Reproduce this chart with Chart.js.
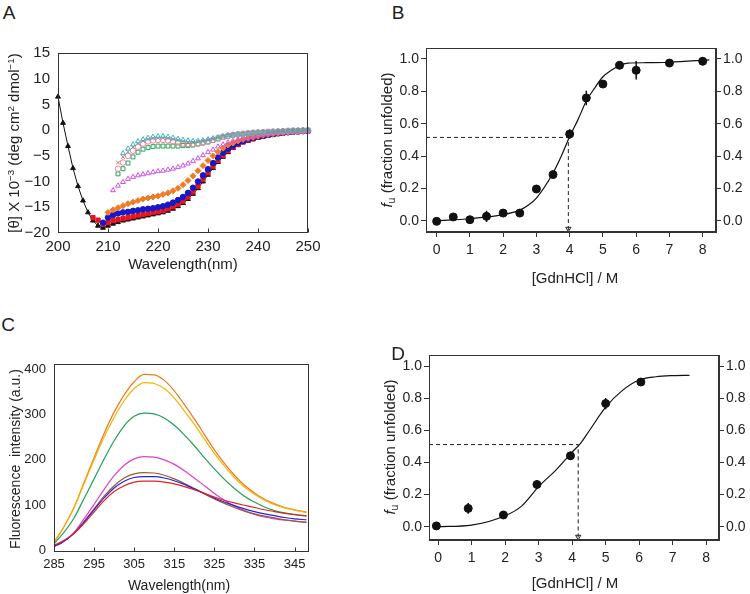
<!DOCTYPE html>
<html>
<head>
<meta charset="utf-8">
<script src="https://cdn.jsdelivr.net/npm/chart.js@4.4.1/dist/chart.umd.min.js"></script>
<style>
  body { margin: 0; background: #fff; width: 750px; height: 594px; position: relative; overflow: hidden;
         font-family: "Liberation Sans", Arial, sans-serif; color: #222; }
  canvas { position: absolute; }
  .t { position: absolute; white-space: nowrap; line-height: 1; transform: translate(-50%, -50%); }
  .rot { transform: translate(-50%, -50%) rotate(-90deg); }
  sup { font-size: 0.65em; vertical-align: 0.5em; line-height: 0; }
  sub { font-size: 0.7em; vertical-align: -0.3em; line-height: 0; }
</style>
</head>
<body>
<canvas id="chartA" width="330" height="235" style="left:0;top:30px"></canvas>
<canvas id="chartB" width="375" height="265" style="left:375px;top:35px"></canvas>
<canvas id="chartC" width="330" height="254" style="left:0;top:340px"></canvas>
<canvas id="chartD" width="375" height="249" style="left:375px;top:345px"></canvas>

<div class="t" style="left:9px;top:12px;font-size:19px">A</div>
<div class="t" style="left:398px;top:12px;font-size:19px">B</div>
<div class="t" style="left:8px;top:324px;font-size:19px">C</div>
<div class="t" style="left:398px;top:353px;font-size:19px">D</div>

<div class="t rot" style="left:13px;top:143px;font-size:15px">[θ] X 10<sup>−3</sup> (deg cm<sup>2</sup> dmol<sup>−1</sup>)</div>
<div class="t" style="left:183px;top:263px;font-size:15px">Wavelength(nm)</div>
<div class="t rot" style="left:386px;top:140px;font-size:15px"><i>f</i><sub>u</sub> (fraction unfolded)</div>
<div class="t" style="left:575px;top:277px;font-size:15px">[GdnHCl] / M</div>
<div class="t rot" style="left:15px;top:459px;font-size:14px">Fluorescence&nbsp; intensity (a.u.)</div>
<div class="t" style="left:179px;top:585px;font-size:14px">Wavelength(nm)</div>
<div class="t rot" style="left:389px;top:447px;font-size:15px"><i>f</i><sub>u</sub> (fraction unfolded)</div>
<div class="t" style="left:575px;top:582px;font-size:15px">[GdnHCl] / M</div>

<script>
// ---- panel A: CD spectra (200-250 nm, 1 nm steps)
const waveA = [200, 201, 202, 203, 204, 205, 206, 207, 208, 209,
  210, 211, 212, 213, 214, 215, 216, 217, 218, 219,
  220, 221, 222, 223, 224, 225, 226, 227, 228, 229,
  230, 231, 232, 233, 234, 235, 236, 237, 238, 239,
  240, 241, 242, 243, 244, 245, 246, 247, 248, 249, 250];
const cdBlack = [6.5, 1.4, -3.1, -7.4, -10.9, -13.7, -16.0, -17.6, -18.6, -19.0,
  -18.6, -18.2, -17.9, -17.6, -17.4, -17.2, -17.0, -16.8, -16.6, -16.4,
  -16.2, -16.0, -15.7, -15.3, -14.8, -14.2, -13.4, -12.4, -11.3, -10.0,
  -8.7, -7.4, -6.2, -5.2, -4.3, -3.5, -2.9, -2.4, -2.1, -1.8,
  -1.5, -1.3, -1.1, -0.9, -0.75, -0.6, -0.5, -0.4, -0.3, -0.2, -0.15];
const cdRed = [null, null, null, null, null, null, null, -17.0, -17.5, -18.3,
  -18.0, -17.6, -17.4, -17.2, -17.0, -16.8, -16.6, -16.4, -16.2, -16.0,
  -15.8, -15.6, -15.3, -14.9, -14.4, -13.8, -13.0, -12.0, -10.9, -9.6,
  -8.3, -7.0, -5.9, -4.9, -4.0, -3.3, -2.8, -2.3, -2.0, -1.7,
  -1.4, -1.2, -1.0, -0.85, -0.7, -0.55, -0.45, -0.35, -0.3, -0.2, -0.15];
const cdBlue = [null, null, null, null, null, null, null, null, null, -18.0,
  -17.0, -16.5, -16.2, -16.0, -15.9, -15.7, -15.6, -15.4, -15.3, -15.2,
  -15.0, -14.8, -14.5, -14.1, -13.6, -13.0, -12.2, -11.2, -10.0, -8.8,
  -7.6, -6.4, -5.3, -4.4, -3.6, -3.0, -2.5, -2.1, -1.8, -1.5,
  -1.3, -1.1, -0.9, -0.75, -0.6, -0.5, -0.4, -0.3, -0.25, -0.2, -0.15];
const cdOrange = [null, null, null, null, null, null, null, null, null, null,
  -16.0, -15.5, -15.1, -14.7, -14.3, -14.0, -13.7, -13.4, -13.2, -13.0,
  -12.8, -12.5, -12.2, -11.8, -11.3, -10.6, -9.8, -8.9, -7.9, -6.9,
  -5.9, -5.0, -4.2, -3.5, -2.9, -2.5, -2.1, -1.8, -1.6, -1.4,
  -1.2, -1.0, -0.85, -0.7, -0.6, -0.5, -0.4, -0.3, -0.25, -0.2, -0.15];
const cdMagenta = [null, null, null, null, null, null, null, null, null, null,
  null, -11.7, -10.8, -10.1, -9.5, -9.1, -8.8, -8.6, -8.4, -8.2,
  -8.0, -7.9, -7.7, -7.5, -7.2, -6.9, -6.5, -6.0, -5.5, -4.9,
  -4.3, -3.8, -3.2, -2.8, -2.4, -2.1, -1.8, -1.6, -1.4, -1.2,
  -1.0, -0.9, -0.8, -0.7, -0.6, -0.5, -0.45, -0.4, -0.35, -0.3, -0.3];
const cdGreen = [null, null, null, null, null, null, null, null, null, null,
  null, null, -8.5, -7.5, -6.4, -5.2, -4.3, -3.7, -3.4, -3.2,
  -3.1, -3.1, -3.1, -3.1, -3.1, -3.0, -3.0, -2.9, -2.7, -2.5,
  -2.3, -2.0, -1.7, -1.4, -1.2, -1.0, -0.9, -0.8, -0.7, -0.6,
  -0.5, -0.45, -0.4, -0.35, -0.3, -0.25, -0.2, -0.15, -0.1, -0.1, -0.1];
const cdPink = [null, null, null, null, null, null, null, null, null, null,
  null, null, -7.5, -6.3, -5.0, -4.0, -3.2, -2.6, -2.2, -2.0,
  -1.9, -1.9, -2.0, -2.2, -2.4, -2.6, -2.7, -2.7, -2.6, -2.4,
  -2.2, -1.9, -1.6, -1.3, -1.1, -0.9, -0.8, -0.7, -0.6, -0.5,
  -0.45, -0.4, -0.35, -0.3, -0.25, -0.2, -0.15, -0.1, -0.1, -0.05, 0];
const cdBrown = [null, null, null, null, null, null, null, null, null, null,
  null, null, -6.3, -5.2, -4.2, -3.3, -2.6, -2.1, -1.8, -1.6,
  -1.5, -1.5, -1.6, -1.8, -2.0, -2.2, -2.3, -2.3, -2.2, -2.1,
  -1.9, -1.7, -1.4, -1.2, -1.0, -0.9, -0.8, -0.7, -0.6, -0.5,
  -0.4, -0.35, -0.3, -0.25, -0.2, -0.15, -0.1, -0.05, 0, 0, 0.05];
const cdCyan = [null, null, null, null, null, null, null, null, null, null,
  null, null, null, -4.5, -3.6, -2.8, -2.2, -1.8, -1.5, -1.3,
  -1.2, -1.2, -1.3, -1.5, -1.7, -1.9, -2.0, -2.1, -2.1, -2.0,
  -1.8, -1.6, -1.4, -1.2, -1.0, -0.9, -0.8, -0.7, -0.6, -0.5,
  -0.4, -0.35, -0.3, -0.25, -0.2, -0.15, -0.1, -0.05, 0, 0.05, 0.1];
const ticksWaveA = [200, 210, 220, 230, 240, 250];
const ticksCD = [-20, -15, -10, -5, 0, 5, 10, 15];

// ---- panel B: GdnHCl titration
const concB = [0, 0.5, 1, 1.5, 2, 2.5, 3, 3.5, 4, 4.5, 5, 5.5, 6, 7, 8];
const fuB = [-0.004, 0.023, 0.006, 0.027, 0.047, 0.047, 0.196, 0.285, 0.536, 0.759, 0.845, 0.961, 0.93, 0.975, 0.986];
const errB = [0, 0, 0, 0.035, 0, 0.02, 0, 0, 0.03, 0.045, 0, 0.02, 0.057, 0.015, 0.025];
const fitConcB = [0, 1, 2, 2.5, 2.75, 3, 3.5, 3.75, 4, 4.25, 4.5, 4.75, 5, 5.25, 5.5, 5.75, 6.3, 7, 8.2];
const fitB = [0, 0.012, 0.037, 0.065, 0.095, 0.14, 0.295, 0.4, 0.52, 0.625, 0.74, 0.82, 0.89, 0.93, 0.96, 0.975, 0.977, 0.98, 0.995];
const midB = [3.96, 0.515];

// ---- panel C: fluorescence spectra
const waveC = [285, 287, 290, 292.5, 295, 297.5, 300, 302.5, 305, 307.5, 310, 312.5, 315,
  317.5, 320, 322.5, 325, 327.5, 330, 332.5, 335, 337.5, 340, 342.5, 345, 348];
const flOrange = [18, 45, 95, 150, 205, 258, 305, 343, 372, 388, 387, 375, 352, 322, 290, 256, 222, 192, 166, 144, 127, 113, 103, 95, 90, 85];
const flYellow = [20, 46, 95, 148, 200, 250, 293, 330, 357, 370, 368, 357, 336, 308, 278, 246, 214, 186, 161, 140, 124, 111, 101, 94, 89, 84];
const flGreen = [15, 35, 72, 115, 158, 202, 242, 275, 296, 303, 301, 292, 276, 255, 231, 205, 180, 157, 137, 120, 107, 96, 88, 83, 80, 77];
const flMagenta = [8, 18, 40, 70, 102, 135, 165, 188, 202, 207, 206, 200, 190, 176, 160, 143, 126, 111, 98, 88, 80, 74, 70, 67, 65, 63];
const flBrown = [10, 18, 38, 64, 92, 120, 143, 160, 169, 172, 171, 166, 158, 148, 137, 125, 114, 104, 95, 87, 81, 76, 72, 68, 65, 62];
const flBlue = [10, 18, 38, 63, 90, 116, 138, 153, 161, 163, 163, 160, 154, 146, 136, 126, 116, 107, 99, 92, 86, 81, 77, 73, 70, 68];
const flRed = [12, 20, 38, 60, 85, 110, 130, 143, 151, 153, 153, 151, 147, 141, 134, 126, 118, 111, 105, 100, 95, 90, 86, 82, 79, 76];
const ticksWaveC = [285, 295, 305, 315, 325, 335, 345];
const ticksFl = [0, 100, 200, 300, 400];

// ---- panel D: second titration
const concD = [-0.05, 0.9, 1.95, 2.95, 3.95, 5.0, 6.05];
const fuD = [0.005, 0.114, 0.073, 0.263, 0.442, 0.768, 0.902];
const errD = [0, 0.033, 0.015, 0.025, 0.025, 0.035, 0.01];
const fitConcD = [0, 1, 2, 2.5, 3, 3.5, 4, 4.25, 4.5, 5, 5.5, 6, 6.5, 7, 7.5];
const fitD = [0.0, 0.01, 0.068, 0.13, 0.25, 0.35, 0.465, 0.52, 0.595, 0.745, 0.85, 0.915, 0.935, 0.942, 0.944];
const midD = [4.18, 0.512];

const ticksConc = [0, 1, 2, 3, 4, 5, 6, 7, 8];
const ticksFu = [0, 0.2, 0.4, 0.6, 0.8, 1.0];

Chart.defaults.font.family = '"Liberation Sans", Arial, sans-serif';
Chart.defaults.color = '#222';
Chart.defaults.animation = false;

const AXIS = '#333';

// box around the plot area, optionally with short ticks pointing inward on x
const frame = {
  id: 'frame',
  afterDraw(chart, args, opts) {
    const { ctx, chartArea: a } = chart;
    const l = Math.round(a.left) + 0.5, t = Math.round(a.top) + 0.5;
    const r = Math.round(a.right) - 0.5, b = Math.round(a.bottom) - 0.5;
    ctx.save();
    ctx.strokeStyle = AXIS;
    ctx.lineWidth = 1;
    ctx.strokeRect(l, t, r - l, b - t);
    if (opts.innerTicks) {
      const sx = chart.scales.x;
      sx.ticks.forEach(tk => {
        const px = Math.round(sx.getPixelForValue(tk.value)) + 0.5;
        ctx.beginPath();
        ctx.moveTo(px, b);
        ctx.lineTo(px, b - 4);
        ctx.stroke();
      });
    }
    ctx.restore();
  }
};

const pts = (xs, ys) => xs.map((x, i) => ({ x: x, y: ys[i] }));
const setTicks = list => scale => { scale.ticks = list.map(v => ({ value: v })); };
const minus = v => (v < 0 ? '\u2212' + Math.abs(v) : '' + v);
const noGrid = { display: false, drawTicks: false };

function cdSet(values, color, style, filled, extra) {
  return Object.assign({
    data: pts(waveA, values),
    pointStyle: style,
    pointRadius: 2.8,
    borderWidth: 1,
    borderColor: color,
    backgroundColor: filled ? color : 'rgba(255,255,255,0)',
    showLine: false,
    clip: false
  }, extra || {});
}

new Chart(document.getElementById('chartA'), {
  type: 'scatter',
  data: {
    datasets: [
      cdSet(cdCyan, '#3fb2cf', 'triangle', false),
      cdSet(cdBrown, '#b58660', 'crossRot', false),
      cdSet(cdPink, '#f07fa8', 'circle', false),
      cdSet(cdGreen, '#2aa55a', 'rect', false),
      cdSet(cdMagenta, '#cf4fe6', 'triangle', false),
      cdSet(cdOrange, '#f27a22', 'rectRot', true, { pointRadius: 3 }),
      cdSet(cdBlue, '#1717c8', 'circle', true),
      cdSet(cdRed, '#e8141c', 'rect', true, { pointRadius: 3 }),
      cdSet(cdBlack, '#111', 'triangle', true, { showLine: true, borderWidth: 1, pointRadius: 2.8 })
    ]
  },
  options: {
    responsive: false,
    layout: { padding: { top: 23, right: 22, left: 0, bottom: 0 } },
    plugins: { legend: { display: false }, tooltip: { enabled: false }, frame: { innerTicks: true } },
    scales: {
      x: {
        type: 'linear', min: 200, max: 250,
        afterBuildTicks: setTicks(ticksWaveA),
        ticks: { font: { size: 15 }, padding: 5 },
        grid: noGrid, border: { display: false },
        afterFit: s => { s.height = 32; }
      },
      y: {
        min: -20, max: 15,
        afterBuildTicks: setTicks(ticksCD),
        ticks: { font: { size: 15 }, padding: 8, callback: minus },
        grid: noGrid, border: { display: false },
        afterFit: s => { s.width = 58; }
      }
    }
  },
  plugins: [frame]
});

// fluorescence spectra
function flSet(values, color) {
  return {
    data: pts(waveC, values),
    borderColor: color,
    borderWidth: 1.2,
    pointRadius: 0,
    cubicInterpolationMode: 'monotone',
    fill: false
  };
}

new Chart(document.getElementById('chartC'), {
  type: 'line',
  data: {
    datasets: [
      flSet(flRed, '#e82020'),
      flSet(flBlue, '#2424e0'),
      flSet(flBrown, '#9a5a2c'),
      flSet(flMagenta, '#e040c8'),
      flSet(flGreen, '#21a05a'),
      flSet(flYellow, '#f5b400'),
      flSet(flOrange, '#f0781e')
    ]
  },
  options: {
    responsive: false,
    layout: { padding: { top: 24, right: 21, left: 0, bottom: 0 } },
    plugins: { legend: { display: false }, tooltip: { enabled: false }, frame: { innerTicks: true } },
    scales: {
      x: {
        type: 'linear', min: 285, max: 348.6,
        afterBuildTicks: setTicks(ticksWaveC),
        ticks: { font: { size: 13 }, padding: 5 },
        grid: noGrid, border: { display: false },
        afterFit: s => { s.height = 42; }
      },
      y: {
        min: -3, max: 411,
        afterBuildTicks: setTicks(ticksFl),
        ticks: { font: { size: 13 }, padding: 8 },
        grid: noGrid, border: { display: false },
        afterFit: s => { s.width = 54; }
      }
    }
  },
  plugins: [frame]
});

// titration curves (B and D)
function errBars(xs, ys, es) {
  const out = [];
  xs.forEach((x, i) => {
    if (es[i] > 0) out.push({ x: x, y: ys[i] - es[i] }, { x: x, y: ys[i] + es[i] }, { x: x, y: null });
  });
  return out;
}

function titration(id, xs, ys, es, fitX, fitY, mid, lim, box) {
  const grid = { drawOnChartArea: false, drawTicks: true, tickLength: 5, color: AXIS };
  const fuAxis = (pos, width) => ({
    position: pos, min: lim.yMin, max: lim.yMax,
    afterBuildTicks: setTicks(ticksFu),
    ticks: { font: { size: 14 }, padding: 2, callback: v => v.toFixed(1) },
    grid: grid, border: { color: AXIS },
    afterFit: s => { s.width = width; }
  });
  return new Chart(document.getElementById(id), {
    type: 'scatter',
    data: {
      datasets: [
        { data: pts(xs, ys), pointRadius: 4, pointStyle: 'circle', backgroundColor: '#111', borderColor: '#111', showLine: false },
        { data: errBars(xs, ys, es), showLine: true, spanGaps: false, pointRadius: 0, borderColor: '#111', borderWidth: 1.5 },
        { data: pts(fitX, fitY), showLine: true, pointRadius: 0, borderColor: '#111', borderWidth: 1.2, cubicInterpolationMode: 'monotone' },
        { data: [{ x: lim.xMin, y: mid[1] }, { x: mid[0], y: mid[1] }, { x: mid[0], y: lim.yMin }],
          showLine: true, pointRadius: 0, borderColor: '#222', borderWidth: 1, borderDash: [4, 3] },
        { data: [{ x: mid[0], y: lim.yMin + 0.02 }], pointStyle: 'triangle', rotation: 180, pointRadius: 3,
          borderColor: '#222', borderWidth: 1, backgroundColor: 'rgba(255,255,255,0)', showLine: false }
      ]
    },
    options: {
      responsive: false,
      layout: { padding: { top: box.top, right: 0, left: 0, bottom: 0 } },
      plugins: { legend: { display: false }, tooltip: { enabled: false }, frame: {} },
      scales: {
        x: {
          type: 'linear', min: lim.xMin, max: lim.xMax,
          afterBuildTicks: setTicks(ticksConc),
          ticks: { font: { size: 14 }, padding: 5 },
          grid: grid, border: { color: AXIS },
          afterFit: s => { s.height = box.xh; }
        },
        y: fuAxis('left', box.yw),
        y2: fuAxis('right', box.rw)
      }
    },
    plugins: [frame]
  });
}

titration('chartB', concB, fuB, errB, fitConcB, fitB, midB,
  { xMin: -0.32, xMax: 8.4, yMin: -0.07, yMax: 1.068 },
  { top: 13, xh: 68, yw: 51, rw: 34 });

titration('chartD', concD, fuD, errD, fitConcD, fitD, midD,
  { xMin: -0.27, xMax: 8.38, yMin: -0.083, yMax: 1.068 },
  { top: 10, xh: 54, yw: 54, rw: 31 });
</script>
</body>
</html>
